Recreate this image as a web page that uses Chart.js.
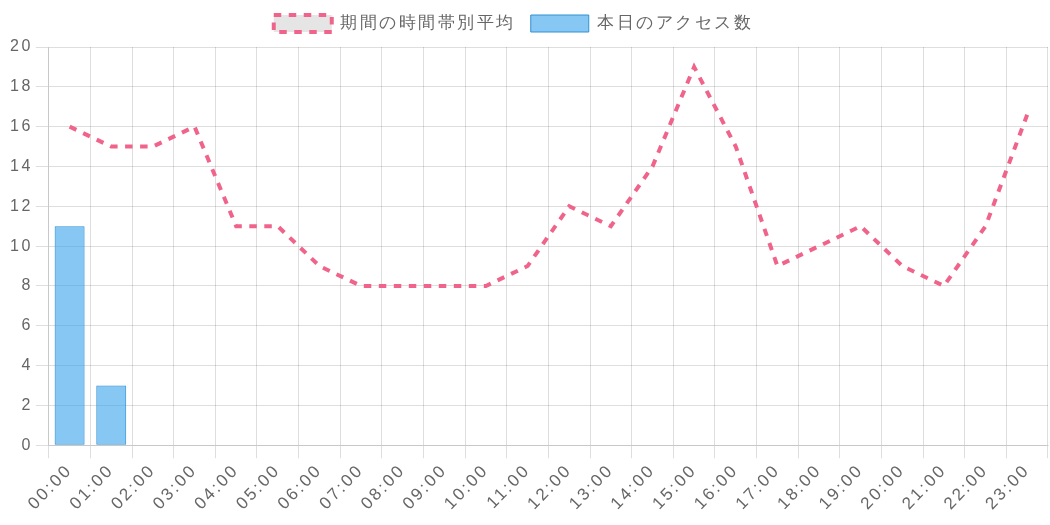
<!DOCTYPE html>
<html>
<head>
<meta charset="utf-8">
<script src="https://cdn.jsdelivr.net/npm/chart.js@4"></script>
<style>
  body { margin: 0; background: #fff; }
  #chart-wrapper { width: 1050px; height: 525px; }
</style>
</head>
<body>
<div id="chart-wrapper"><canvas id="access-chart"></canvas></div>
<script>
const hours = ["00:00", "01:00", "02:00", "03:00", "04:00", "05:00", "06:00", "07:00",
  "08:00", "09:00", "10:00", "11:00", "12:00", "13:00", "14:00", "15:00",
  "16:00", "17:00", "18:00", "19:00", "20:00", "21:00", "22:00", "23:00"];
const averageCounts = [16, 15, 15, 16, 11, 11, 9, 8, 8, 8, 8, 9, 12, 11, 14, 19, 15, 9, 10, 11, 9, 8, 11, 16.6];
const todayCounts = [11, 3];
const yTicks = { min: 0, max: 20, step: 2 };

// canvas text was spaced out in the original, so set it on the context
const spacingPlugin = {
  id: 'spacing',
  beforeUpdate: (chart) => { chart.ctx.letterSpacing = '2.5px'; },
  beforeLayout: (chart) => { chart.ctx.letterSpacing = '2.5px'; },
  afterLayout: (chart) => {
    // legend sat a bit left of centre and close to the top in the original
    chart.legend.left -= 14;
    chart.legend.right -= 14;
    chart.legend.top -= 5;
    chart.legend.bottom -= 5;
  },
  beforeDraw: (chart) => { chart.ctx.letterSpacing = '2.5px'; }
};

Chart.defaults.font.family = "'Liberation Sans', Arial, sans-serif";
Chart.defaults.color = '#666';

const chartCanvas = document.querySelector('#access-chart');

new Chart(chartCanvas, {
  plugins: [spacingPlugin],
  data: {
    labels: hours,
    datasets: [
      {
        type: 'line',
        label: '期間の時間帯別平均',
        data: averageCounts,
        borderColor: 'rgb(240, 100, 140)',
        backgroundColor: 'rgba(0, 0, 0, 0.1)',
        borderWidth: 4,
        borderDash: [7.5, 7.5],
        pointRadius: 0,
        fill: false,
        tension: 0
      },
      {
        type: 'bar',
        label: '本日のアクセス数',
        data: todayCounts,
        backgroundColor: 'rgba(54, 162, 235, 0.6)',
        borderColor: 'rgb(48, 145, 212)',
        borderWidth: 1,
        borderSkipped: false
      }
    ]
  },
  options: {
    responsive: true,
    maintainAspectRatio: false,
    animation: false,
    layout: { padding: { left: 7, right: 2, top: 5, bottom: 9 } },
    plugins: {
      legend: {
        position: 'top',
        labels: {
          boxWidth: 58,
          boxHeight: 17,
          padding: 15,
          font: { size: 17 }
        }
      },
      tooltip: { enabled: false }
    },
    scales: {
      x: {
        offset: true,
        grid: { color: 'rgba(0, 0, 0, 0.13)', tickLength: 13, offset: true },
        ticks: { minRotation: 46, maxRotation: 46, font: { size: 17 }, padding: 2 }
      },
      y: {
        min: yTicks.min,
        max: yTicks.max,
        grid: { color: 'rgba(0, 0, 0, 0.13)', tickLength: 13 },
        ticks: { stepSize: yTicks.step, font: { size: 16 }, padding: 3 }
      }
    }
  }
});
</script>
</body>
</html>
